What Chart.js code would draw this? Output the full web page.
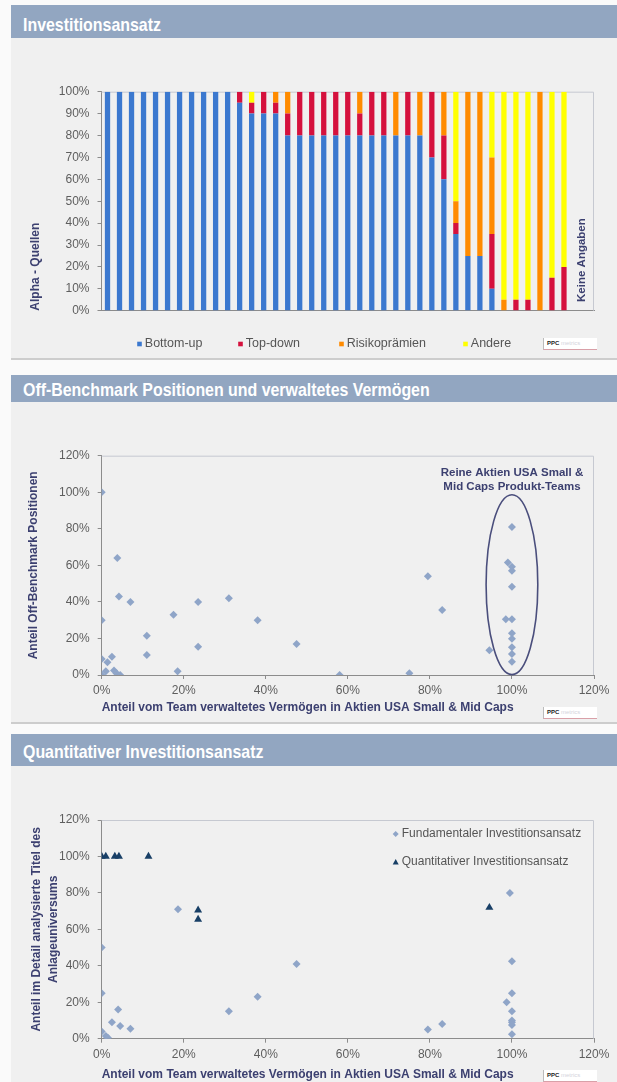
<!DOCTYPE html>
<html lang="de">
<head>
<meta charset="UTF-8">
<title>Investitionsansatz</title>
<script src="https://cdn.jsdelivr.net/npm/chart.js"></script>
<style>
  body { margin: 0; width: 617px; height: 1082px; overflow: hidden; background: #fafafa; position: relative;
         font-family: "Liberation Sans", Arial, sans-serif; }
  .head { position: absolute; left: 11px; right: 0; background: #92a6c1; color: #fff; font-weight: bold;
          font-size: 18.5px; overflow: hidden; white-space: nowrap; }
  .head span { display: inline-block; margin-left: 12px; transform: scaleX(0.86); transform-origin: left; }
  .panel { position: absolute; left: 11px; right: 0; background: #f0f0f0; border-bottom: 2px solid #cdcdcd; }
  .panel canvas { position: absolute; left: 0; top: 0; }
  .ppc { position: absolute; left: 532px; width: 50px; height: 11px; background: #fff; border-left: 1px solid #bbb;
         border-bottom: 1px solid #d9a0a8; font-size: 6px; line-height: 11px; padding-left: 3px; color: #222; }
  .ppc b { font-weight: bold; }
  .ppc i { font-style: normal; color: #d4d4dc; }
</style>
</head>
<body>
  <div class="head" style="top:5px;height:33px;line-height:40px"><span>Investitionsansatz</span></div>
  <div class="panel" style="top:38px;height:320px">
    <canvas id="alpha" width="606" height="320"></canvas>
    <div class="ppc" style="top:300px"><b>PPC</b> <i>metrics</i></div>
  </div>

  <div class="head" style="top:375px;height:27px;line-height:30px"><span>Off-Benchmark Positionen und verwaltetes Vermögen</span></div>
  <div class="panel" style="top:402px;height:320px">
    <canvas id="offbench" width="606" height="320"></canvas>
    <div class="ppc" style="top:305px"><b>PPC</b> <i>metrics</i></div>
  </div>

  <div class="head" style="top:734px;height:32px;line-height:36px"><span>Quantitativer Investitionsansatz</span></div>
  <div class="panel" style="top:766px;height:318px;border-bottom:none">
    <canvas id="quant" width="606" height="316"></canvas>
    <div class="ppc" style="top:304px"><b>PPC</b> <i>metrics</i></div>
  </div>

<script>
// Alpha-Quellen je Fonds (Anteile in %), die letzten zwei Fonds ohne Angaben
const fonds = Array.from({ length: 41 }, (_, i) => 'Fonds ' + (i + 1));
const bottomUp = [100, 100, 100, 100, 100, 100, 100, 100, 100, 100, 100, 95, 90, 90, 90, 80, 80, 80, 80, 80,
                  80, 80, 80, 80, 80, 80, 80, 70, 60, 35, 25, 25, 10, 0, 0, 0, 0, 0, 0, null, null];
const topDown  = [0, 0, 0, 0, 0, 0, 0, 0, 0, 0, 0, 5, 5, 10, 5, 10, 20, 20, 20, 20,
                  20, 10, 20, 20, 0, 20, 0, 30, 20, 5, 0, 0, 25, 0, 5, 5, 0, 15, 20, null, null];
const risiko   = [0, 0, 0, 0, 0, 0, 0, 0, 0, 0, 0, 0, 0, 0, 5, 10, 0, 0, 0, 0,
                  0, 10, 0, 0, 20, 0, 20, 0, 20, 10, 75, 75, 35, 5, 0, 0, 100, 0, 0, null, null];
const andere   = [0, 0, 0, 0, 0, 0, 0, 0, 0, 0, 0, 0, 5, 0, 0, 0, 0, 0, 0, 0,
                  0, 0, 0, 0, 0, 0, 0, 0, 0, 50, 0, 0, 30, 95, 95, 95, 0, 85, 80, null, null];

// Off-Benchmark Positionen vs. Anteil verwaltetes Vermögen (%)
const offX = [0, 3.8, 4.2, 7, 17.5, 23.5, 31, 38, 47.5, 0, 11, 11, 23.5, 18.5, 0, 1.4, 2.5, 0, 1, 3, 3.6, 4.5,
              100, 99, 100, 100, 100, 79.5, 83, 98.5, 100, 100, 100, 100, 100, 100, 94.5, 58, 75];
const offY = [100, 64, 43, 40, 33, 40, 42, 30, 17, 30, 21.5, 11, 15.5, 2, 8.8, 7, 10, 0, 2, 2.5, 1, 0,
              81, 61.5, 59.3, 57, 48.3, 54, 35.5, 30.5, 30.5, 22.8, 19.9, 15.2, 11.5, 7.3, 13.5, 0, 1];

// Detailanalyse des Anlageuniversums (%)
const fundX = [18.6, 0, 0, 4, 2.5, 4.5, 7, 0, 1, 1.5, 31, 38, 47.5, 99.5, 100, 100, 98.7, 100, 100, 100, 100, 100, 79.5, 83];
const fundY = [71, 50, 25, 16, 9, 7, 5.5, 4, 1.5, 0.5, 15, 23, 41, 80, 42.5, 25, 20, 15, 10, 9, 7.5, 2.5, 5, 8];
const quantX = [0, 1, 3.2, 4.2, 11.4, 23.5, 23.5, 94.5];
const quantY = [100, 100, 100, 100, 100, 70.5, 65.5, 72];

const pctTicks = [0, 20, 40, 60, 80, 100, 120];

const NAVY = '#3c4070';
const AXIS = '#8c8c8c';
const FONT = '"Liberation Sans", Arial, sans-serif';

Chart.defaults.font.family = FONT;
Chart.defaults.font.size = 12;
Chart.defaults.color = '#5e5e5e';

const toPoints = (xs, ys) => xs.map((x, i) => ({ x, y: ys[i] }));

// light frame on top and right of the plot area
const plotFrame = {
  id: 'plotFrame',
  beforeDatasetsDraw(chart) {
    const { ctx, chartArea: a } = chart;
    ctx.save();
    ctx.strokeStyle = '#c6c9d1';
    ctx.lineWidth = 1;
    ctx.beginPath();
    ctx.moveTo(a.left, a.top + 0.5);
    ctx.lineTo(a.right - 0.5, a.top + 0.5);
    ctx.lineTo(a.right - 0.5, a.bottom);
    ctx.stroke();
    ctx.restore();
  }
};

function marker(ctx, shape, x, y, r) {
  ctx.beginPath();
  if (shape === 'rectRot') {
    ctx.moveTo(x, y - r); ctx.lineTo(x + r, y); ctx.lineTo(x, y + r); ctx.lineTo(x - r, y);
  } else if (shape === 'triangle') {
    ctx.moveTo(x, y - r); ctx.lineTo(x + r, y + r * 0.8); ctx.lineTo(x - r, y + r * 0.8);
  } else {
    ctx.rect(x - r, y - r, 2 * r, 2 * r);
  }
  ctx.closePath();
  ctx.fill();
}

// legend entries placed at fixed spots, styled from the datasets
const spotLegend = {
  id: 'spotLegend',
  afterDraw(chart, args, o) {
    const { ctx } = chart;
    ctx.save();
    ctx.font = o.size + 'px ' + FONT;
    ctx.textBaseline = 'middle';
    chart.data.datasets.forEach((ds, i) => {
      const [x, y] = o.at[i];
      ctx.fillStyle = ds.backgroundColor;
      marker(ctx, ds.pointStyle || 'rect', x, y, o.r);
      ctx.fillStyle = '#555';
      ctx.fillText(ds.label, x + o.r + o.gap, y);
    });
    ctx.restore();
  }
};

// vertical note over the funds without data
const sideNote = {
  id: 'sideNote',
  afterDatasetsDraw(chart, args, o) {
    const { ctx, scales: { x, y } } = chart;
    const px = (x.getPixelForValue(o.from) + x.getPixelForValue(o.to)) / 2;
    ctx.save();
    ctx.translate(px, y.getPixelForValue(o.y));
    ctx.rotate(-Math.PI / 2);
    ctx.font = 'bold 11.5px ' + FONT;
    ctx.fillStyle = NAVY;
    ctx.textBaseline = 'middle';
    ctx.fillText(o.text, 0, 0);
    ctx.restore();
  }
};

// ellipse round the pure small & mid cap teams plus its caption
const teamRing = {
  id: 'teamRing',
  afterDatasetsDraw(chart, args, o) {
    const { ctx, scales: { x, y } } = chart;
    const cx = x.getPixelForValue(o.cx), cy = y.getPixelForValue(o.cy);
    const rx = x.getPixelForValue(o.cx + o.rx) - cx;
    const ry = cy - y.getPixelForValue(o.cy + o.ry);
    ctx.save();
    ctx.strokeStyle = '#4a4e7c';
    ctx.lineWidth = 1.6;
    ctx.beginPath();
    ctx.ellipse(cx, cy, rx, ry, 0, 0, Math.PI * 2);
    ctx.stroke();
    ctx.font = 'bold 11.5px ' + FONT;
    ctx.fillStyle = NAVY;
    ctx.textAlign = 'center';
    ctx.textBaseline = 'middle';
    o.lines.forEach((t, i) => ctx.fillText(t, cx, y.getPixelForValue(o.lineY[i])));
    ctx.restore();
  }
};

const pctAxis = (extra) => Object.assign({
  type: 'linear',
  min: 0,
  max: 120,
  afterBuildTicks(s) { s.ticks = pctTicks.map(v => ({ value: v })); },
  ticks: { callback: v => v + '%' },
  grid: { drawOnChartArea: false, tickLength: 4, color: AXIS },
  border: { color: AXIS }
}, extra);

const titleFont = { weight: 'bold', size: 12 };

new Chart(document.getElementById('alpha'), {
  type: 'bar',
  data: {
    labels: fonds,
    datasets: [
      { label: 'Bottom-up', data: bottomUp, backgroundColor: '#3b78cf' },
      { label: 'Top-down', data: topDown, backgroundColor: '#d5113d' },
      { label: 'Risikoprämien', data: risiko, backgroundColor: '#ff8b00' },
      { label: 'Andere', data: andere, backgroundColor: '#ffff00' }
    ]
  },
  options: {
    responsive: false,
    animation: false,
    layout: { padding: { top: 53.7, right: 23, bottom: 0, left: 0 } },
    datasets: { bar: { categoryPercentage: 0.44, barPercentage: 1 } },
    plugins: {
      legend: { display: false },
      tooltip: { enabled: false },
      spotLegend: { at: [[128.5, 306], [229.5, 306], [330.5, 306], [454.5, 306]], r: 2.3, gap: 3, size: 12.5 },
      sideNote: { text: 'Keine Angaben', from: 39, to: 40, y: 4 }
    },
    scales: {
      x: {
        stacked: true,
        ticks: { display: false },
        grid: { display: false },
        border: { color: AXIS },
        afterFit(s) { s.height = 47.3; }
      },
      y: {
        stacked: true,
        min: 0,
        max: 100,
        ticks: { stepSize: 10, padding: 8, callback: v => v + '%' },
        grid: { drawOnChartArea: false, tickLength: 4, color: AXIS },
        border: { color: AXIS },
        title: { display: true, text: 'Alpha - Quellen', align: 'start', color: NAVY, font: titleFont, padding: { top: 17.8, bottom: 0 } },
        afterFit(s) { s.width = 90.5; }
      }
    }
  },
  plugins: [plotFrame, spotLegend, sideNote]
});

new Chart(document.getElementById('offbench'), {
  type: 'scatter',
  data: {
    datasets: [
      { label: 'Fonds', data: toPoints(offX, offY), backgroundColor: '#8fa5c8', pointStyle: 'rectRot', pointRadius: 4, borderWidth: 0 }
    ]
  },
  options: {
    responsive: false,
    animation: false,
    layout: { padding: { top: 53.7, right: 23, bottom: 0, left: 0 } },
    plugins: {
      legend: { display: false },
      tooltip: { enabled: false },
      teamRing: {
        cx: 100, cy: 49.4, rx: 6.3, ry: 49.2,
        lines: ['Reine Aktien USA Small &', 'Mid Caps Produkt-Teams'],
        lineY: [110.5, 103]
      }
    },
    scales: {
      x: pctAxis({
        ticks: { padding: 4.5, callback: v => v + '%' },
        title: { display: true, text: 'Anteil vom Team verwaltetes Vermögen in Aktien USA Small & Mid Caps', align: 'start', color: NAVY, font: titleFont, padding: { top: 0, bottom: 6.8 } },
        afterFit(s) { s.height = 47; }
      }),
      y: pctAxis({
        ticks: { padding: 8, callback: v => v + '%' },
        title: { display: true, text: 'Anteil Off-Benchmark Positionen', color: NAVY, font: titleFont, padding: { top: 15.8, bottom: 0 } },
        afterFit(s) { s.width = 90.7; }
      })
    }
  },
  plugins: [plotFrame, teamRing]
});

new Chart(document.getElementById('quant'), {
  type: 'scatter',
  data: {
    datasets: [
      { label: 'Fundamentaler Investitionsansatz', data: toPoints(fundX, fundY), backgroundColor: '#8fa5c8', pointStyle: 'rectRot', pointRadius: 4, borderWidth: 0 },
      { label: 'Quantitativer Investitionsansatz', data: toPoints(quantX, quantY), backgroundColor: '#183f66', pointStyle: 'triangle', pointRadius: 4.6, borderWidth: 0 }
    ]
  },
  options: {
    responsive: false,
    animation: false,
    layout: { padding: { top: 54, right: 23, bottom: 0, left: 0 } },
    plugins: {
      legend: { display: false },
      tooltip: { enabled: false },
      spotLegend: { at: [[384.7, 68], [384.7, 96]], r: 3, gap: 3, size: 12 }
    },
    scales: {
      x: pctAxis({
        ticks: { padding: 5, callback: v => v + '%' },
        title: { display: true, text: 'Anteil vom Team verwaltetes Vermögen in Aktien USA Small & Mid Caps', align: 'start', color: NAVY, font: titleFont, padding: { top: 0, bottom: 0 } },
        afterFit(s) { s.height = 43.3; }
      }),
      y: pctAxis({
        ticks: { padding: 8, callback: v => v + '%' },
        title: { display: true, text: ['Anteil im Detail analysierte Titel des', 'Anlageuniversums'], color: NAVY, font: { weight: 'bold', size: 12, lineHeight: 1.38 }, padding: { top: 17.4, bottom: 0 } },
        afterFit(s) { s.width = 90.7; }
      })
    }
  },
  plugins: [plotFrame, spotLegend]
});
</script>
</body>
</html>
